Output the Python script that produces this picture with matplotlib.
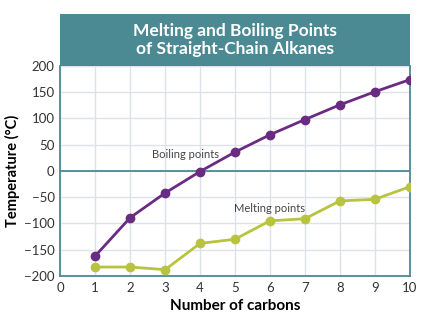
import matplotlib.pyplot as plt
from matplotlib.patches import Rectangle

plt.rcParams['font.family'] = ['Lato', 'DejaVu Sans']

carbons = [1, 2, 3, 4, 5, 6, 7, 8, 9, 10]
boiling = [-162, -89, -42, -1, 36, 69, 98, 126, 151, 174]
melting = [-183, -183, -188, -138, -130, -95, -91, -57, -54, -30]
xticks = list(range(0, 11))
yticks = list(range(-200, 201, 50))

teal = '#4b8a93'
purple = '#6a2c82'
green = '#b8c43f'

fig = plt.figure(figsize=(4.3, 3.22), dpi=100)
ax = fig.add_axes([0.14, 0.143, 0.813, 0.652])

ax.plot(carbons, boiling, color=purple, lw=2, marker='o', ms=6, zorder=3)
ax.plot(carbons, melting, color=green, lw=2, marker='o', ms=6, zorder=3)
ax.axhline(0, color=teal, lw=1.3, zorder=2)

ax.set_xlim(0, 10)
ax.set_ylim(-200, 200)
ax.set_xticks(xticks)
ax.set_yticks(yticks)
ax.set_yticklabels([str(v).replace('-', '\u2212') for v in yticks])
ax.tick_params(length=0, labelsize=9.5, colors='#333333', pad=4)
ax.grid(color='#dde2e8', lw=1)
ax.set_axisbelow(True)
for s in ['left', 'bottom', 'right']:
    ax.spines[s].set_color(teal)
    ax.spines[s].set_linewidth(1.3)
ax.spines['top'].set_visible(False)

# series labels
ax.text(3.57, 32, 'Boiling points', fontsize=8, color='#444444', ha='center', va='center')
ax.text(6.0, -72, 'Melting points', fontsize=8, color='#444444', ha='center', va='center')

ax.set_xlabel('Number of carbons', fontsize=11, fontweight='bold', labelpad=4)
ax.set_ylabel('Temperature (\u00b0C)', fontsize=10.5, fontweight='bold', labelpad=3)

# title banner
bar = Rectangle((0.14, 0.795), 0.813, 0.162, transform=fig.transFigure,
                facecolor=teal, edgecolor='none')
fig.patches.append(bar)
fig.text(0.5465, 0.876, 'Melting and Boiling Points\nof Straight-Chain Alkanes',
         ha='center', va='center', color='white', fontsize=12.5,
         fontweight='bold', linespacing=1.1)

fig.savefig('out.png', dpi=100)
